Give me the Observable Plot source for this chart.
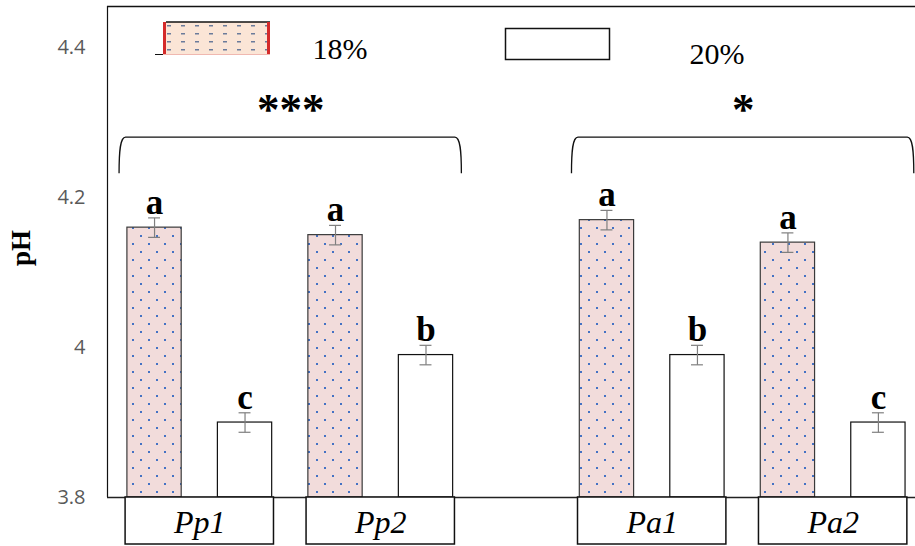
<!DOCTYPE html>
<html>
<head>
<meta charset="utf-8">
<script src="https://cdn.jsdelivr.net/npm/d3@7"></script>
<script src="https://cdn.jsdelivr.net/npm/@observablehq/plot@0.6"></script>
<style>
  html, body { margin: 0; padding: 0; background: #fff; }
  #chart { width: 915px; height: 546px; overflow: hidden; }
  #chart svg { display: block; background: #fff; }
</style>
</head>
<body>
<div id="chart"></div>
<script>
// pH of the four strains at two concentrations
const strains = ["Pp1", "Pp2", "Pa1", "Pa2"];
const species = ["Pp", "Pa"];
const concentrations = ["18%", "20%"];
const ph18 = [4.16, 4.15, 4.17, 4.14];
const ph20 = [3.90, 3.99, 3.99, 3.90];
const se18 = [0.013, 0.013, 0.013, 0.013];
const se20 = [0.013, 0.013, 0.013, 0.013];
const letters18 = ["a", "a", "a", "a"];
const letters20 = ["c", "b", "b", "c"];
// strain pairs compared within each species, with their significance
const comparisons = [["Pp1", "Pp2"], ["Pa1", "Pa2"]];
const significance = ["***", "*"];
const yTicks = [3.8, 4.0, 4.2, 4.4];

const SERIF = "'Liberation Serif', 'Times New Roman', serif";

// each bar takes one slot; one empty slot separates the two species
const slotOf = (strain, c) =>
  strains.indexOf(strain) * 2 + species.indexOf(strain.slice(0, 2)) + c;

const values = [ph18, ph20], errors = [se18, se20], letters = [letters18, letters20];
const rows = [];
strains.forEach((s, i) => concentrations.forEach((conc, c) => rows.push({
  strain: s, conc, slot: slotOf(s, c),
  ph: values[c][i], lo: values[c][i] - errors[c][i], hi: values[c][i] + errors[c][i],
  letter: letters[c][i]
})));
const groups = strains.map(s => ({strain: s, center: slotOf(s, 0) + 0.5}));

const bracketTop = 4.28, bracketEnd = 4.232;
const brackets = comparisons.map(([a, b], k) => ({
  x1: slotOf(a, 0) - 0.37, x2: slotOf(b, 1) + 0.38, label: significance[k]
}));

const xDomain = [-0.52, 8.41];
const yDomain = [3.8, 4.455];
const half = 0.3;      // half bar width, in slots
const cap = 0.066;     // half error-bar cap width, in slots
const boxHalf = 0.82;  // half width of a strain label box, in slots

function defs() {
  const d = d3.create("svg:defs");
  const p = d.append("pattern").attr("id", "dots").attr("patternUnits", "userSpaceOnUse")
    .attr("width", 16).attr("height", 16);
  p.append("rect").attr("width", 16).attr("height", 16).attr("fill", "#f2dcdb");
  p.append("rect").attr("x", 4).attr("y", 3).attr("width", 2).attr("height", 2).attr("fill", "#4472c4");
  p.append("rect").attr("x", 12).attr("y", 11).attr("width", 2).attr("height", 2).attr("fill", "#4472c4");
  const q = d.append("pattern").attr("id", "legend-dots").attr("patternUnits", "userSpaceOnUse")
    .attr("width", 14).attr("height", 8);
  q.append("rect").attr("width", 14).attr("height", 8).attr("fill", "#fbe5d6");
  q.append("rect").attr("x", 4).attr("y", 3).attr("width", 4).attr("height", 1.5).attr("fill", "#6b7b9b");
  return d.node();
}

function bracketMarks(index, scales) {
  const g = d3.create("svg:g").attr("fill", "none").attr("stroke", "#111").attr("stroke-width", 1.3);
  for (const b of brackets) {
    const x1 = scales.x(b.x1), x2 = scales.x(b.x2);
    const yt = scales.y(bracketTop), yb = scales.y(bracketEnd);
    g.append("path").attr("d",
      `M${x1 - 1.5},${yb} C${x1 - 1.5},${yt + 14} ${x1 - 0.5},${yt} ${x1 + 5},${yt}` +
      ` L${x2 - 5},${yt} C${x2 + 0.5},${yt} ${x2 + 1.5},${yt + 14} ${x2 + 1.5},${yb}`);
  }
  return g.node();
}

function legend(index, scales, vals, dims) {
  const ml = dims.marginLeft, mt = dims.marginTop;
  const g = d3.create("svg:g");
  const a = g.append("g").attr("transform", `translate(${ml + 56},${mt + 16})`);
  a.append("rect").attr("width", 107).attr("height", 33).attr("fill", "url(#legend-dots)");
  a.append("line").attr("x1", 3).attr("x2", 107).attr("y1", 0).attr("y2", 0)
    .attr("stroke", "#111").attr("stroke-width", 1.5);
  a.append("line").attr("x1", -8).attr("x2", 0).attr("y1", 32.5).attr("y2", 32.5)
    .attr("stroke", "#111").attr("stroke-width", 1);
  for (const x of [1.5, 105.5]) {
    a.append("line").attr("x1", x).attr("x2", x).attr("y1", 0).attr("y2", 33)
      .attr("stroke", "#d42a2a").attr("stroke-width", 3);
  }
  a.append("line").attr("x1", 0).attr("x2", 107).attr("y1", 32.5).attr("y2", 32.5)
    .attr("stroke", "#f0b8b0").attr("stroke-width", 1);
  g.append("rect").attr("x", ml + 398.5).attr("y", mt + 22.5).attr("width", 104).attr("height", 31)
    .attr("fill", "#fff").attr("stroke", "#111").attr("stroke-width", 1.5);
  const t = g.append("g").attr("font-family", SERIF).attr("font-size", 30).attr("fill", "#000")
    .attr("text-anchor", "middle");
  t.append("text").attr("x", ml + 233).attr("y", mt + 53).text(concentrations[0]);
  t.append("text").attr("x", ml + 610).attr("y", mt + 58).text(concentrations[1]);
  return g.node();
}

const chart = Plot.plot({
  width: 915,
  height: 546,
  marginLeft: 107,
  marginRight: 0,
  marginTop: 6,
  marginBottom: 49,
  style: {background: "#fff", overflow: "hidden"},
  x: {domain: xDomain, axis: null},
  y: {domain: yDomain, axis: null},
  marks: [
    defs,
    // frame: top, left and baseline
    Plot.ruleY([yDomain[1]], {stroke: "#111", strokeWidth: 1.5}),
    Plot.ruleX([xDomain[0]], {stroke: "#111", strokeWidth: 1.2}),
    // bars
    Plot.rect(rows, {
      x1: d => d.slot - half, x2: d => d.slot + half, y1: yDomain[0], y2: "ph",
      fill: d => d.conc === concentrations[0] ? "url(#dots)" : "#fff",
      stroke: d => d.conc === concentrations[0] ? "#3a3a3a" : "#111", strokeWidth: 1.2
    }),
    Plot.ruleY([yDomain[0]], {stroke: "#222", strokeWidth: 1.5}),
    // strain label boxes under the axis
    Plot.rect(groups, {
      x1: d => d.center - boxHalf, x2: d => d.center + boxHalf, y1: yDomain[0], y2: yDomain[0],
      insetBottom: -47, fill: "#fff", stroke: "#111", strokeWidth: 1.5
    }),
    Plot.text(groups, {
      x: "center", y: yDomain[0], text: "strain", dy: 25, lineAnchor: "middle",
      fontFamily: SERIF, fontSize: 32, fontStyle: "italic", fill: "#000"
    }),
    // error bars
    Plot.link(rows, {x1: "slot", x2: "slot", y1: "lo", y2: "hi", stroke: "#7f7f7f", strokeWidth: 1.2}),
    Plot.ruleY(rows, {x1: d => d.slot - cap, x2: d => d.slot + cap, y: "hi", stroke: "#7f7f7f", strokeWidth: 1.2}),
    Plot.ruleY(rows, {x1: d => d.slot - cap, x2: d => d.slot + cap, y: "lo", stroke: "#7f7f7f", strokeWidth: 1.2}),
    // significance letters
    Plot.text(rows, {
      x: "slot", y: "hi", text: "letter", dy: -4, lineAnchor: "bottom",
      fontFamily: SERIF, fontSize: 35, fontWeight: "bold", fill: "#000"
    }),
    // brackets and stars between strains
    bracketMarks,
    Plot.text(brackets, {
      x: d => (d.x1 + d.x2) / 2, y: bracketTop, text: "label", dy: -14, lineAnchor: "bottom",
      fontFamily: SERIF, fontSize: 45, fontWeight: "bold", fill: "#000"
    }),
    legend,
    // y axis
    Plot.axisY({
      ticks: yTicks, tickSize: 0, tickPadding: 22, tickFormat: d3.format("~g"), label: null,
      fontFamily: "'Open Sans', sans-serif", fontSize: 20, color: "#595959"
    }),
    Plot.text(["pH"], {
      frameAnchor: "left", text: d => d, rotate: -90, dx: -86, dy: -4,
      textAnchor: "middle", lineAnchor: "middle",
      fontFamily: SERIF, fontSize: 27, fontWeight: "bold", fill: "#000"
    })
  ]
});

document.getElementById("chart").appendChild(chart);
</script>
</body>
</html>
